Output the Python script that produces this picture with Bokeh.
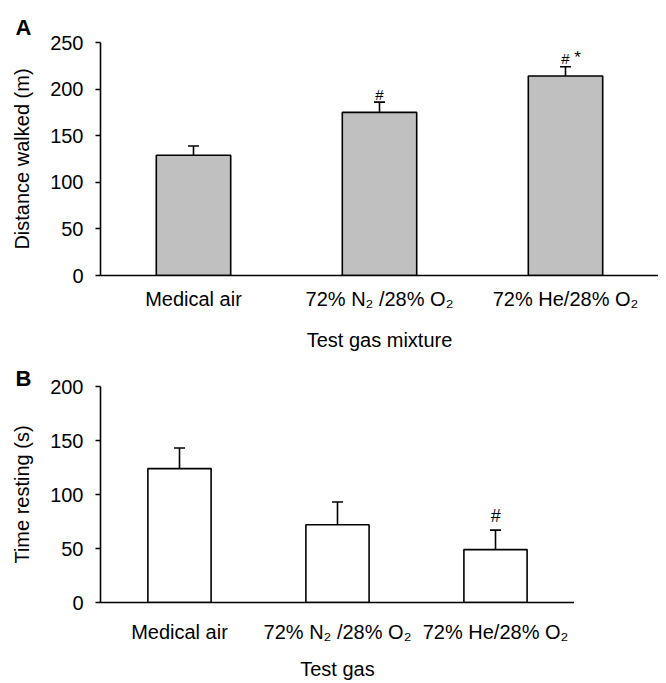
from bokeh.plotting import figure
from bokeh.layouts import column
from bokeh.models import FixedTicker, ColumnDataSource, Range1d
from bokeh.core.properties import value
from bokeh.embed import file_html
from bokeh.resources import INLINE

# ---- data ----
gases = ["Medical air", "72% N\u2082 /28% O\u2082", "72% He/28% O\u2082"]
distance = [129, 175, 214]
distance_err = [10, 11, 10]
distance_hash = ["", "#", "#"]
distance_star = ["", "", "*"]
distance_ticks = [0, 50, 100, 150, 200, 250]

resting = [124, 72, 49]
resting_err = [19, 21, 18]
resting_hash = ["", "", "#"]
resting_ticks = [0, 50, 100, 150, 200]

FONT = "Liberation Sans"


def make_panel(vals, errs, hashes, stars, ticks, fill, ylabel, xlabel, letter,
               frame_w, frame_h, top, bottom, label_standoff, axlabel_standoff,
               hash_size, hash_style, hash_off, title_standoff):
    p = figure(x_range=gases, y_range=Range1d(0, ticks[-1]),
               frame_width=frame_w, frame_height=frame_h,
               min_border_left=100, min_border_right=0,
               min_border_top=top, min_border_bottom=bottom,
               output_backend="svg", toolbar_location=None, tools="")
    p.xgrid.visible = False
    p.ygrid.visible = False
    p.outline_line_color = None
    p.background_fill_color = "white"
    p.border_fill_color = "white"

    p.title.text = letter
    p.title.align = "left"
    p.title.offset = -85
    p.title.standoff = title_standoff
    p.title.text_font = FONT
    p.title.text_font_size = "22px"
    p.title.text_font_style = "bold"
    p.title.text_color = "black"

    up = [v + e for v, e in zip(vals, errs)]
    src = ColumnDataSource(dict(x=gases, y=vals, up=up, hash=hashes, star=stars))
    p.vbar(x="x", top="y", width=0.4, source=src, fill_color=fill,
           line_color="black", line_width=1.6)
    p.segment(x0="x", y0="y", x1="x", y1="up", source=src,
              line_color="black", line_width=1.6)
    p.scatter(x="x", y="up", source=src, marker="dash", size=11,
              line_color="black", line_width=1.6)
    p.text(x="x", y="up", text="hash", source=src, text_align="center",
           text_baseline="alphabetic", y_offset=hash_off,
           text_font=value(FONT), text_font_size=hash_size,
           text_font_style=hash_style, text_color="black")
    p.text(x="x", y="up", text="star", source=src, text_align="center",
           text_baseline="alphabetic", y_offset=hash_off - 1, x_offset=12,
           text_font=value(FONT), text_font_size="17px", text_color="black")

    ya = p.yaxis[0]
    ya.ticker = FixedTicker(ticks=ticks)
    ya.minor_tick_line_color = None
    ya.major_tick_out = 5
    ya.major_tick_in = 0
    ya.major_tick_line_width = 1.6
    ya.axis_line_width = 1.6
    ya.major_label_standoff = 12
    ya.major_label_text_font = FONT
    ya.major_label_text_font_size = "20px"
    ya.major_label_text_color = "black"
    ya.axis_label = ylabel
    ya.axis_label_text_font = FONT
    ya.axis_label_text_font_size = "20px"
    ya.axis_label_text_font_style = "normal"
    ya.axis_label_text_color = "black"
    ya.axis_label_standoff = 14

    xa = p.xaxis[0]
    xa.major_tick_line_color = None
    xa.minor_tick_line_color = None
    xa.major_tick_out = 0
    xa.major_tick_in = 0
    xa.axis_line_width = 1.6
    xa.major_label_standoff = label_standoff
    xa.major_label_text_font = FONT
    xa.major_label_text_font_size = "20px"
    xa.major_label_text_color = "black"
    xa.axis_label = xlabel
    xa.axis_label_text_font = FONT
    xa.axis_label_text_font_size = "20px"
    xa.axis_label_text_font_style = "normal"
    xa.axis_label_text_color = "black"
    xa.axis_label_standoff = axlabel_standoff
    return p


pA = make_panel(distance, distance_err, distance_hash, distance_star,
                distance_ticks, "#c0c0c0", "Distance walked (m)",
                "Test gas mixture", "A", 558, 233, 42, 81, 12, 16,
                "15px", "normal", -8, 5)
pB = make_panel(resting, resting_err, resting_hash, ["", "", ""],
                resting_ticks, "white", "Time resting (s)",
                "Test gas", "B", 474, 216, 30, 80, 18, 12,
                "18px", "italic", -14, -8)

layout = column(pA, pB)
open("out.html", "w").write(file_html(layout, INLINE))
